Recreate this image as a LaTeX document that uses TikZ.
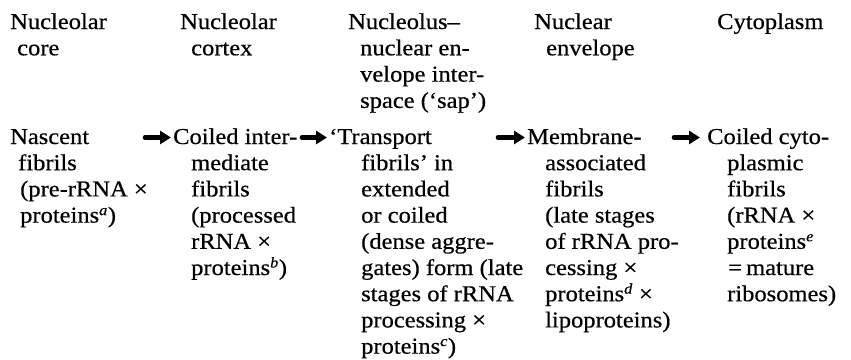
\documentclass[tikz,border=0pt]{standalone}
\usepackage{fontspec}
\setmainfont{Liberation Serif}[FakeBold=0.5]
\usetikzlibrary{arrows.meta}
\newcommand{\widetxt}[1]{\scalebox{1.08}[1]{#1}}
\tikzset{
  lbl/.style={anchor=base west, inner sep=0pt, font=\fontsize{22.7}{26}\selectfont},
  arr/.style={line width=4.6pt, line cap=round, -{Triangle[length=11pt,width=13pt]}}
}
\newcommand{\fn}[1]{\textsuperscript{\itshape\fontsize{15}{15}\selectfont #1}}
\begin{document}
\begin{tikzpicture}[x=1pt,y=-1pt]
\useasboundingbox (0,0) rectangle (851,359);
% header row
\node[lbl] (h1a) at (10,29) {\widetxt{Nucleolar}};
\node[lbl] (h1b) at (17,55.3) {\widetxt{core}};
\node[lbl] (h2a) at (180,29) {\widetxt{Nucleolar}};
\node[lbl] (h2b) at (191,55.3) {\widetxt{cortex}};
\node[lbl] (h3a) at (348,29) {\widetxt{Nucleolus–}};
\node[lbl] (h3b) at (360,55.3) {\widetxt{nuclear en-}};
\node[lbl] (h3c) at (360,81.6) {\widetxt{velope inter-}};
\node[lbl] (h3d) at (360,107.9) {\widetxt{space (‘sap’)}};
\node[lbl] (h4a) at (534,29) {\widetxt{Nuclear}};
\node[lbl] (h4b) at (546,55.3) {\widetxt{envelope}};
\node[lbl] (h5a) at (717,29) {\widetxt{Cytoplasm}};
% column 1
\node[lbl] (c1a) at (10,144) {\widetxt{Nascent}};
\node[lbl] (c1b) at (18,170.2) {\widetxt{fibrils}};
\node[lbl] (c1c) at (20,196.4) {\widetxt{(pre-rRNA ×}};
\node[lbl] (c1d) at (20,222.6) {\widetxt{proteins\fn{a})}};
% column 2
\node[lbl] (c2a) at (173,144) {\widetxt{Coiled inter-}};
\node[lbl] (c2b) at (191,170.2) {\widetxt{mediate}};
\node[lbl] (c2c) at (191,196.4) {\widetxt{fibrils}};
\node[lbl] (c2d) at (191,222.6) {\widetxt{(processed}};
\node[lbl] (c2e) at (191,248.8) {\widetxt{rRNA ×}};
\node[lbl] (c2f) at (191,275) {\widetxt{proteins\fn{b})}};
% column 3
\node[lbl] (c3a) at (329,144) {\widetxt{‘Transport}};
\node[lbl] (c3b) at (361,170.2) {\widetxt{fibrils’ in}};
\node[lbl] (c3c) at (361,196.4) {\widetxt{extended}};
\node[lbl] (c3d) at (361,222.6) {\widetxt{or coiled}};
\node[lbl] (c3e) at (361,248.8) {\widetxt{(dense aggre-}};
\node[lbl] (c3f) at (361,275) {\widetxt{gates) form (late}};
\node[lbl] (c3g) at (361,301.2) {\widetxt{stages of rRNA}};
\node[lbl] (c3h) at (361,327.4) {\widetxt{processing ×}};
\node[lbl] (c3i) at (361,353.6) {\widetxt{proteins\fn{c})}};
% column 4
\node[lbl] (c4a) at (527,144) {\widetxt{Membrane-}};
\node[lbl] (c4b) at (545,170.2) {\widetxt{associated}};
\node[lbl] (c4c) at (545,196.4) {\widetxt{fibrils}};
\node[lbl] (c4d) at (545,222.6) {\widetxt{(late stages}};
\node[lbl] (c4e) at (545,248.8) {\widetxt{of rRNA pro-}};
\node[lbl] (c4f) at (545,275) {\widetxt{cessing ×}};
\node[lbl] (c4g) at (545,301.2) {\widetxt{proteins\fn{d} ×}};
\node[lbl] (c4h) at (545,327.4) {\widetxt{lipoproteins)}};
% column 5
\node[lbl] (c5a) at (707,144) {\widetxt{Coiled cyto-}};
\node[lbl] (c5b) at (727,170.2) {\widetxt{plasmic}};
\node[lbl] (c5c) at (727,196.4) {\widetxt{fibrils}};
\node[lbl] (c5d) at (727,222.6) {\widetxt{(rRNA ×}};
\node[lbl] (c5e) at (727,248.8) {\widetxt{proteins\fn{e}}};
\node[lbl] (c5f) at (728,275) {\widetxt{=\,mature}};
\node[lbl] (c5g) at (727,301.2) {\widetxt{ribosomes)}};
% arrows
\coordinate (a1s) at (145,137.5); \coordinate (a1e) at (171,137.5);
\coordinate (a2s) at (302,137.5); \coordinate (a2e) at (327,137.5);
\coordinate (a3s) at (498,137.5); \coordinate (a3e) at (525,137.5);
\coordinate (a4s) at (674,137.5); \coordinate (a4e) at (700,137.5);
\draw[arr] (a1s) -- (a1e);
\draw[arr] (a2s) -- (a2e);
\draw[arr] (a3s) -- (a3e);
\draw[arr] (a4s) -- (a4e);
\end{tikzpicture}
\end{document}
